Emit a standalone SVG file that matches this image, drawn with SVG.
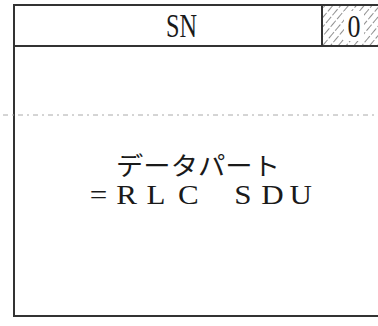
<svg xmlns="http://www.w3.org/2000/svg" width="378" height="326" viewBox="0 0 378 326">
<defs>
<style>
.ln{stroke:#333;stroke-width:2;fill:none}
.dash{stroke:#aaa;stroke-width:1;stroke-dasharray:5 4 2 4;fill:none}
.hatch{stroke:#444;stroke-width:1.2}
.t{font-family:"Liberation Serif","Noto Sans CJK JP",serif;fill:#1a1a1a}
</style>
<pattern id="h" patternUnits="userSpaceOnUse" width="6" height="20" patternTransform="rotate(40)">
<line x1="0" y1="0" x2="0" y2="20" class="hatch" stroke-dasharray="8 2"/>
</pattern>
</defs>
<rect width="378" height="326" fill="#fff"/>
<g id="header">
<rect x="322" y="5" width="56" height="41" fill="url(#h)"/>
<rect x="344" y="11" width="20" height="30" fill="#fff"/>
<text class="t" x="166" y="37" font-size="33" textLength="31" lengthAdjust="spacingAndGlyphs">SN</text>
<text class="t" x="347.5" y="37" font-size="32" textLength="13" lengthAdjust="spacingAndGlyphs">0</text>
</g>
<g id="frame">
<path class="ln" d="M378 5 H14 V316 H378"/>
<line class="ln" x1="14" y1="46" x2="378" y2="46"/>
<line class="ln" x1="322" y1="5" x2="322" y2="46"/>
</g>
<g id="connectors">
<line class="dash" x1="3" y1="115" x2="378" y2="115"/>
</g>
<g id="data">
<text class="t" x="116" y="175" font-size="25" textLength="164" lengthAdjust="spacingAndGlyphs">データパート</text>
<text class="t" font-size="27" transform="translate(0,204) scale(1.15,1)" x="78 101.2 127.5 154.8 203.8 227.2 251.8" y="0">=RLCSDU</text>
</g>
</svg>
